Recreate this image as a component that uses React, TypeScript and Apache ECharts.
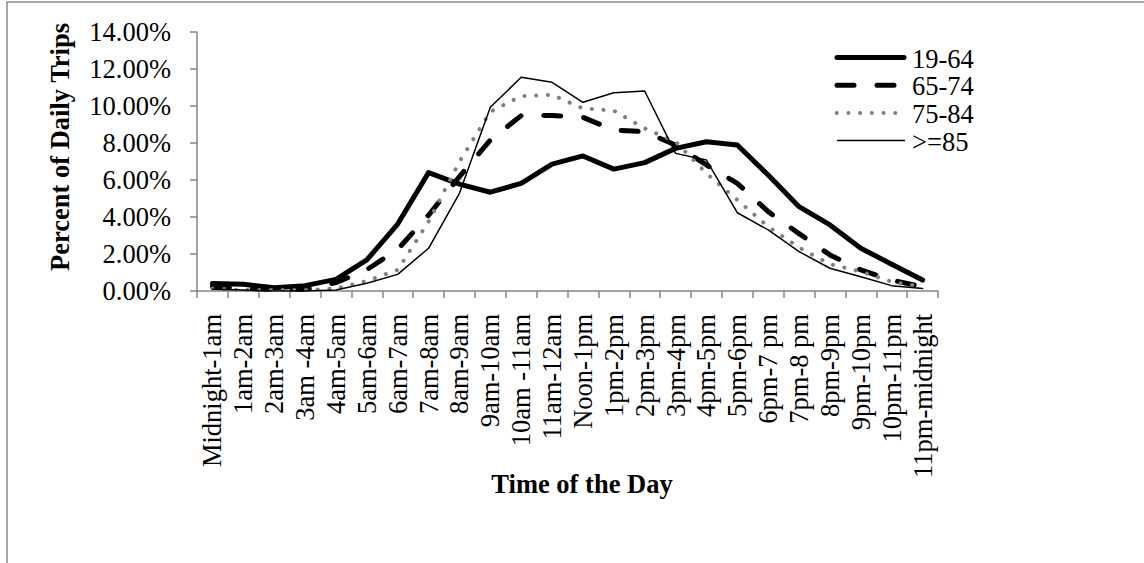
import React, { useEffect, useRef } from "react";
import * as echarts from "echarts";

const categories = [
  "Midnight-1am", "1am-2am", "2am-3am", "3am -4am", "4am-5am", "5am-6am",
  "6am-7am", "7am-8am", "8am-9am", "9am-10am", "10am -11am", "11am-12am",
  "Noon-1pm", "1pm-2pm", "2pm-3pm", "3pm-4pm", "4pm-5pm", "5pm-6pm",
  "6pm-7 pm", "7pm-8 pm", "8pm-9pm", "9pm-10pm", "10pm-11pm", "11pm-midnight",
];

const seriesNames = ["19-64", "65-74", "75-84", ">=85"];

const age19to64 = [0.40, 0.36, 0.18, 0.29, 0.63, 1.68, 3.62, 6.40, 5.78, 5.34, 5.82, 6.86, 7.30, 6.59, 6.94, 7.71, 8.07, 7.89, 6.27, 4.56, 3.57, 2.31, 1.45, 0.59];
const age65to74 = [0.23, 0.14, 0.09, 0.09, 0.45, 1.15, 2.25, 4.10, 6.18, 8.16, 9.48, 9.49, 9.39, 8.70, 8.61, 7.89, 6.81, 5.82, 4.29, 3.10, 1.95, 1.14, 0.59, 0.23];
const age75to84 = [0.14, 0.05, 0.05, 0.05, 0.14, 0.54, 1.14, 3.75, 6.99, 9.69, 10.54, 10.60, 9.87, 9.75, 8.79, 8.07, 6.36, 4.92, 3.48, 2.35, 1.45, 1.05, 0.50, 0.23];
const age85plus = [0.09, 0.05, 0.00, 0.00, 0.05, 0.42, 0.90, 2.31, 5.28, 9.93, 11.55, 11.28, 10.20, 10.72, 10.81, 7.44, 7.08, 4.23, 3.30, 2.13, 1.23, 0.77, 0.29, 0.14];

const yMin = 0;
const yMax = 14;
const yInterval = 2;

const xTitle = "Time of the Day";
const yTitle = "Percent of Daily Trips";

const FONT = "'Liberation Serif', 'Times New Roman', serif";
const AXIS_GRAY = "#868686";
const FS = 26.5;

type Style = { color: string; width: number; dash: number[] | "solid" };
const styles: Style[] = [
  { color: "#000000", width: 5, dash: "solid" },
  { color: "#000000", width: 5, dash: [17, 23] },
  { color: "#808080", width: 4, dash: [0.1, 11.6] },
  { color: "#000000", width: 1.5, dash: "solid" },
];

export default function App() {
  const ref = useRef<HTMLDivElement>(null);

  useEffect(() => {
    const chart = echarts.init(ref.current!, null, { renderer: "svg" });
    const dataSets = [age19to64, age65to74, age75to84, age85plus];

    const legendItems: any[] = [];
    seriesNames.forEach((name, i) => {
      const y = 57.5 + i * 27.7;
      const st = styles[i];
      legendItems.push({
        type: "line",
        shape: { x1: i === 2 ? 836.7 : 837, y1: y, x2: i === 0 ? 904 : i === 3 ? 905 : 895.5, y2: y },
        style: {
          stroke: st.color,
          lineWidth: st.width,
          lineDash: st.dash === "solid" ? null : st.dash,
          lineCap: i === 3 ? "butt" : "round",
        },
      });
      legendItems.push({
        type: "text",
        x: 912,
        y: y + 1,
        style: {
          text: name,
          fontFamily: FONT,
          fontSize: FS,
          fill: "#000",
          verticalAlign: "middle",
          align: "left",
        },
      });
    });

    chart.setOption({
      animation: false,
      backgroundColor: "#ffffff",
      grid: { left: 197, right: 206, top: 32, bottom: 272, containLabel: false },
      xAxis: {
        type: "category",
        data: categories,
        boundaryGap: true,
        axisLine: { show: true, lineStyle: { color: AXIS_GRAY, width: 1.5 } },
        axisTick: { show: true, length: 7, inside: false, interval: 0, lineStyle: { color: AXIS_GRAY, width: 1.5 } },
        axisLabel: {
          interval: 0,
          rotate: 90,
          margin: 23,
          fontFamily: FONT,
          fontSize: FS,
          color: "#000",
        },
        splitLine: { show: false },
      },
      yAxis: {
        type: "value",
        min: yMin,
        max: yMax,
        interval: yInterval,
        axisLine: { show: true, lineStyle: { color: AXIS_GRAY, width: 1.5 } },
        axisTick: { show: true, length: 7, inside: false, lineStyle: { color: AXIS_GRAY, width: 1.5 } },
        axisLabel: {
          margin: 26,
          fontFamily: FONT,
          fontSize: FS,
          color: "#000",
          formatter: (v: number) => `${v.toFixed(2)}%`,
        },
        splitLine: { show: false },
      },
      series: seriesNames.map((name, i) => ({
        name,
        type: "line",
        data: dataSets[i],
        symbol: "none",
        smooth: false,
        z: 2 + i,
        lineStyle: {
          color: styles[i].color,
          width: styles[i].width,
          type: styles[i].dash,
          cap: "round",
          join: "round",
        },
        emphasis: { disabled: true },
      })),
      graphic: [
        {
          type: "rect",
          shape: { x: 7, y: 2, width: 1200, height: 620 },
          style: { fill: "none", stroke: "#8c8c8c", lineWidth: 1.5 },
          silent: true,
        },
        {
          type: "text",
          x: 59.5,
          y: 147,
          rotation: Math.PI / 2,
          style: {
            text: yTitle,
            fontFamily: FONT,
            fontSize: FS,
            fontWeight: "bold",
            fill: "#000",
            align: "center",
            verticalAlign: "middle",
          },
        },
        {
          type: "text",
          x: 582,
          y: 484,
          style: {
            text: xTitle,
            fontFamily: FONT,
            fontSize: FS,
            fontWeight: "bold",
            fill: "#000",
            align: "center",
            verticalAlign: "middle",
          },
        },
        ...legendItems,
      ],
    });

    return () => chart.dispose();
  }, []);

  return (
    <div
      ref={ref}
      style={{ position: "absolute", left: 0, top: 0, width: 1144, height: 563, background: "#fff" }}
    />
  );
}
